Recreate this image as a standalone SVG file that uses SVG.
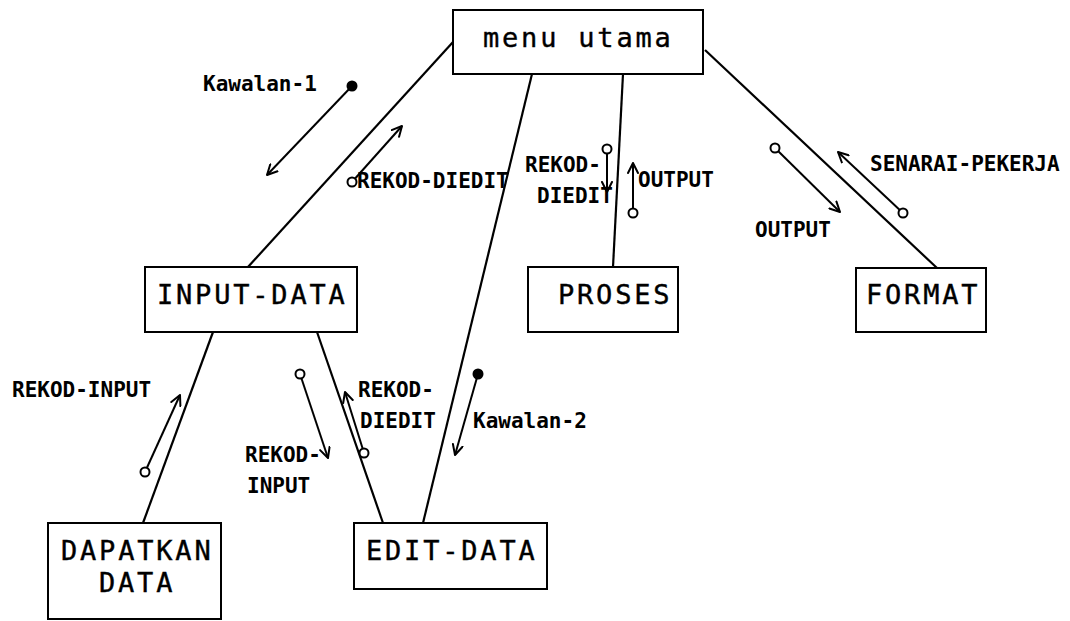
<svg xmlns="http://www.w3.org/2000/svg" width="1070" height="621" viewBox="0 0 1070 621">
<style>
.box{fill:#fff;stroke:#000;stroke-width:2}
.bl{font-family:"DejaVu Sans Mono","Liberation Mono",monospace;font-size:27px;letter-spacing:2.8px;fill:#000;stroke:#000;stroke-width:0.4}
.lb{font-family:"DejaVu Sans Mono","Liberation Mono",monospace;font-size:21px;font-weight:bold;fill:#000}
.con{stroke:#000;stroke-width:2.2;fill:none}
.arr{stroke:#000;stroke-width:2;fill:none;marker-end:url(#v)}
.oc{fill:#fff;stroke:#000;stroke-width:2}
.fc{fill:#000}
</style>
<defs>
<marker id="v" viewBox="0 0 12 12" refX="11" refY="6" markerWidth="12" markerHeight="12" markerUnits="userSpaceOnUse" orient="auto">
<path d="M1,1 L11,6 L1,11" fill="none" stroke="#000" stroke-width="2" stroke-linecap="round" stroke-linejoin="round"/>
</marker>
</defs>
<rect width="1070" height="621" fill="#fff"/>
<g id="connectors">
<line class="con" x1="453" y1="42" x2="248" y2="267"/>
<line class="con" x1="532" y1="74" x2="423" y2="523"/>
<line class="con" x1="623" y1="74" x2="613" y2="267"/>
<line class="con" x1="705" y1="50" x2="937" y2="268"/>
<line class="con" x1="213" y1="332" x2="143" y2="523"/>
<line class="con" x1="317" y1="332" x2="383" y2="523"/>
</g>
<g id="flows">
<line class="arr" x1="352" y1="86" x2="267" y2="175"/>
<circle class="fc" cx="352" cy="86" r="5.5"/>
<line class="arr" x1="352" y1="182" x2="402" y2="126"/>
<circle class="oc" cx="352" cy="182" r="4.5"/>
<line class="arr" x1="607" y1="149" x2="607" y2="192"/>
<circle class="oc" cx="607" cy="149" r="4.5"/>
<line class="arr" x1="633" y1="213" x2="633" y2="163"/>
<circle class="oc" cx="633" cy="213" r="4.5"/>
<line class="arr" x1="775" y1="148" x2="840" y2="212"/>
<circle class="oc" cx="775" cy="148" r="4.5"/>
<line class="arr" x1="903" y1="213" x2="838" y2="152"/>
<circle class="oc" cx="903" cy="213" r="4.5"/>
<line class="arr" x1="145" y1="472" x2="180" y2="395"/>
<circle class="oc" cx="145" cy="472" r="4.5"/>
<line class="arr" x1="300" y1="374" x2="328" y2="458"/>
<circle class="oc" cx="300" cy="374" r="4.5"/>
<line class="arr" x1="364" y1="453" x2="345" y2="392"/>
<circle class="oc" cx="364" cy="453" r="4.5"/>
<line class="arr" x1="478" y1="374" x2="455" y2="455"/>
<circle class="fc" cx="478" cy="374" r="5.5"/>
</g>
<g id="labels">
<text class="lb" x="203" y="91">Kawalan-1</text>
<text class="lb" x="357" y="188">REKOD-DIEDIT</text>
<text class="lb" x="525" y="172">REKOD-</text>
<text class="lb" x="537" y="203">DIEDIT</text>
<text class="lb" x="638" y="187">OUTPUT</text>
<text class="lb" x="755" y="237">OUTPUT</text>
<text class="lb" x="870" y="171">SENARAI-PEKERJA</text>
<text class="lb" x="12" y="397">REKOD-INPUT</text>
<text class="lb" x="358" y="397">REKOD-</text>
<text class="lb" x="360" y="428">DIEDIT</text>
<text class="lb" x="473" y="428">Kawalan-2</text>
<text class="lb" x="245" y="462">REKOD-</text>
<text class="lb" x="247" y="493">INPUT</text>
</g>
<g id="menu-utama">
<rect class="box" x="453" y="10" width="250" height="64"/>
<text class="bl" x="483" y="47">menu utama</text>
</g>
<g id="input-data">
<rect class="box" x="145" y="267" width="212" height="65"/>
<text class="bl" x="157" y="304">INPUT-DATA</text>
</g>
<g id="proses">
<rect class="box" x="528" y="267" width="150" height="65"/>
<text class="bl" x="558" y="304">PROSES</text>
</g>
<g id="format">
<rect class="box" x="856" y="268" width="130" height="64"/>
<text class="bl" x="866" y="304">FORMAT</text>
</g>
<g id="dapatkan-data">
<rect class="box" x="48" y="523" width="173" height="96"/>
<text class="bl" x="61" y="560">DAPATKAN</text>
<text class="bl" x="99" y="592">DATA</text>
</g>
<g id="edit-data">
<rect class="box" x="354" y="523" width="193" height="66"/>
<text class="bl" x="366" y="560">EDIT-DATA</text>
</g>
</svg>
